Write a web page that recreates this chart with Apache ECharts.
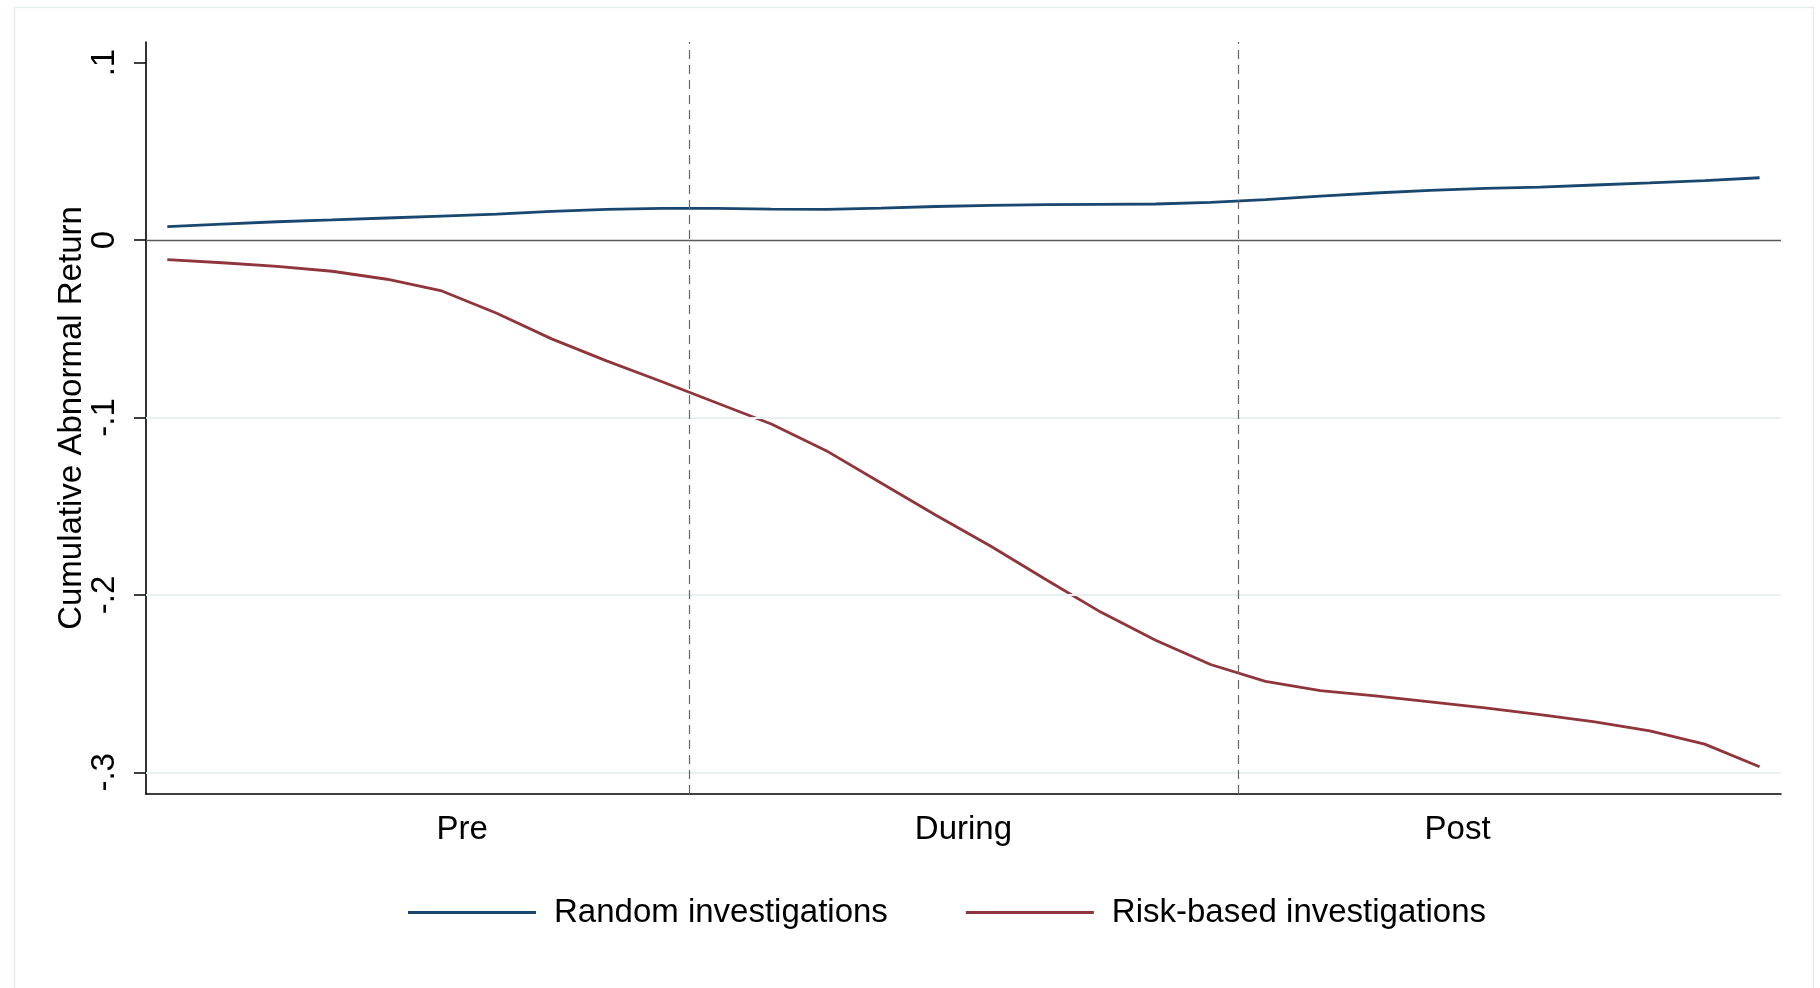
<!DOCTYPE html>
<html>
<head>
<meta charset="utf-8">
<script src="https://cdn.jsdelivr.net/npm/echarts@6/dist/echarts.min.js"></script>
<style>
html,body{margin:0;padding:0;background:#fff;}
#chart{width:1820px;height:988px;}
</style>
</head>
<body>
<div id="chart"></div>
<script>
// Event-time index (1..30): 10 pre, 10 during, 10 post
const days = [1,2,3,4,5,6,7,8,9,10,11,12,13,14,15,16,17,18,19,20,21,22,23,24,25,26,27,28,29,30];
const randomCAR = [0.0075,0.0090,0.0103,0.0113,0.0124,0.0135,0.0146,0.0161,0.0173,0.0178,
                   0.0178,0.0174,0.0173,0.0180,0.0189,0.0195,0.0199,0.0201,0.0203,0.0212,
                   0.0228,0.0247,0.0265,0.0280,0.0291,0.0298,0.0310,0.0322,0.0335,0.0351];
const riskCAR = [-0.0111,-0.0128,-0.0148,-0.0176,-0.0221,-0.0287,-0.0413,-0.0557,-0.0681,-0.0797,
                 -0.0917,-0.1037,-0.1187,-0.1369,-0.1551,-0.1726,-0.1913,-0.2097,-0.2255,-0.2392,
                 -0.2487,-0.2539,-0.2569,-0.2603,-0.2637,-0.2675,-0.2715,-0.2766,-0.2841,-0.2968];
const seriesNames = ['Random investigations','Risk-based investigations'];
const periodLabels = ['Pre','During','Post'];
const periodTickValues = [6.37, 15.5, 24.5];
const periodBoundaries = [10.5, 20.5];
const yTickValues = [-0.3,-0.2,-0.1,0,0.1];
const yGridValues = [-0.3,-0.2,-0.1];

const FONT = 'Liberation Sans, Arial, Helvetica, sans-serif';
const FS = 33;
const chart = echarts.init(document.getElementById('chart'), null, {renderer:'canvas'});

function fmtY(v){
  if (Math.abs(v) < 1e-9) return '0';
  const s = String(Math.round(Math.abs(v)*10)/10).replace(/^0/, '');
  return (v < 0 ? '-' : '') + s;
}
function fmtX(v){
  let best = 0, bd = Infinity;
  periodTickValues.forEach((t,i)=>{ const d=Math.abs(t-v); if(d<bd){bd=d;best=i;} });
  return periodLabels[best];
}

const option = {
  animation: false,
  backgroundColor: '#ffffff',
  graphic: [{
    type: 'rect', left: 12, top: 5, silent: true, z: -10,
    shape: {width: 1799, height: 1000},
    style: {fill: 'none', stroke: '#e3ebef', lineWidth: 1.5}
  }],
  grid: {left: 146, right: 39, top: 42, bottom: 194, containLabel: false},
  legend: {
    left: 403, top: 891,
    itemWidth: 128, itemHeight: 3, itemGap: 78,
    icon: 'rect',
    data: seriesNames,
    textStyle: {fontFamily: FONT, fontSize: FS, color: '#000', padding: [4,0,0,13]}
  },
  xAxis: {
    type: 'value', min: 0.612, max: 30.39,
    axisLine: {show: true, onZero: false, lineStyle: {color: '#000', width: 1.6}},
    axisTick: {show: false},
    splitLine: {show: false},
    axisLabel: {
      customValues: periodTickValues,
      formatter: fmtX,
      fontFamily: FONT, fontSize: FS, color: '#000', margin: 19
    }
  },
  yAxis: {
    type: 'value', min: -0.3122, max: 0.1116,
    name: 'Cumulative Abnormal Return',
    nameLocation: 'middle', nameRotate: 90, nameGap: 58,
    nameMoveOverlap: false,
    nameTextStyle: {fontFamily: FONT, fontSize: FS, color: '#000'},
    axisLine: {show: true, onZero: false, lineStyle: {color: '#000', width: 1.6}},
    axisTick: {show: true, customValues: yTickValues, length: 12, lineStyle: {color: '#000', width: 1.5}},
    splitLine: {show: false},
    axisLabel: {
      customValues: yTickValues,
      formatter: fmtY,
      rotate: 90,
      fontFamily: FONT, fontSize: FS, color: '#000', margin: 25
    }
  },
  series: [
    {
      name: '_grid', type: 'line', data: [], silent: true, z: 1,
      markLine: {
        silent: true, symbol: 'none', animation: false,
        label: {show: false},
        data: yGridValues.map(v => ({yAxis: v, lineStyle: {color: '#e8f0f2', width: 2.2, type: 'solid'}}))
          .concat([{yAxis: 0, lineStyle: {color: '#5a5a5a', width: 1.4, type: 'solid'}}])
          .concat(periodBoundaries.map(v => ({xAxis: v, lineStyle: {color: '#666666', width: 1.2, type: [9,6]}})))
      }
    },
    {
      name: seriesNames[0], type: 'line', z: 3,
      data: days.map((d,i)=>[d, randomCAR[i]]),
      showSymbol: false, symbol: 'none', smooth: false,
      lineStyle: {color: '#1a476f', width: 2.8},
      itemStyle: {color: '#1a476f'}
    },
    {
      name: seriesNames[1], type: 'line', z: 3,
      data: days.map((d,i)=>[d, riskCAR[i]]),
      showSymbol: false, symbol: 'none', smooth: false,
      lineStyle: {color: '#90353b', width: 2.8},
      itemStyle: {color: '#90353b'}
    }
  ]
};
chart.setOption(option);
</script>
</body>
</html>
